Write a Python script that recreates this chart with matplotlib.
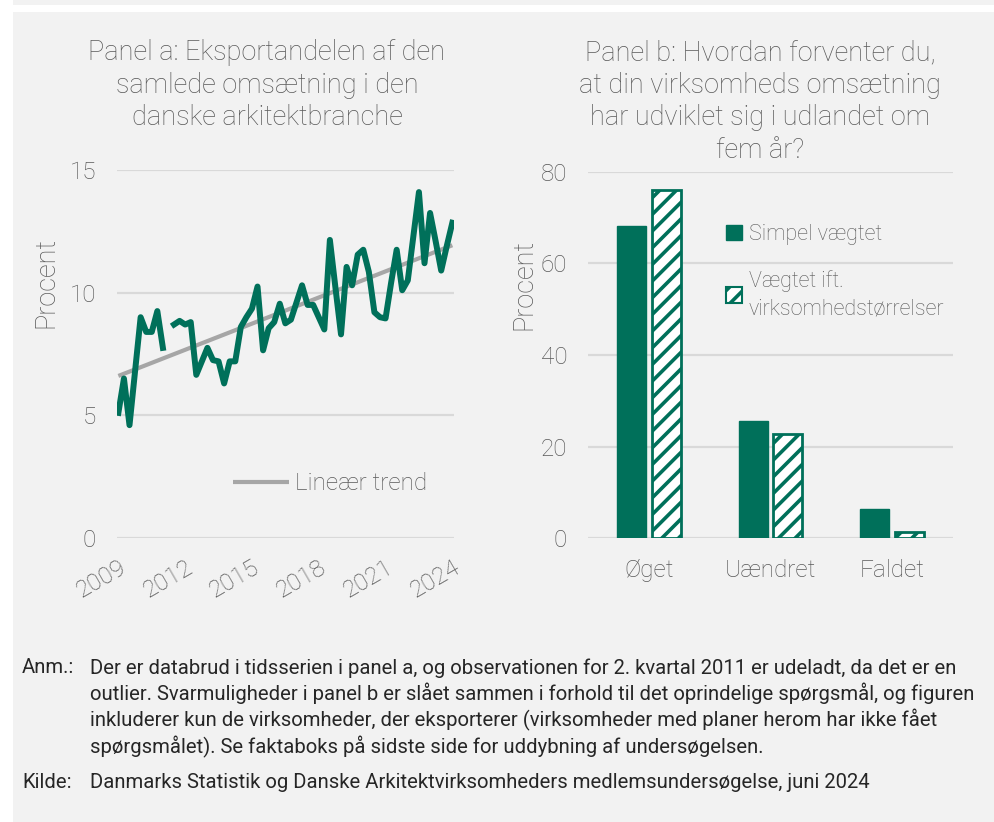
"""Eksportandel i arkitektbranchen (panel a) og forventet omsætning i udlandet (panel b)."""

import numpy as np
import matplotlib.pyplot as plt
from matplotlib.patches import Patch, Rectangle

# Panel a: kvartalsvis eksportandel, 2009K1-2024K1 (2011K2 udeladt)
export_share = [
    5.1, 6.5, 4.6, 6.8, 9.0, 8.4, 8.4, 9.25, 7.75, np.nan,
    8.7, 8.85, 8.7, 8.8, 6.65, 7.2, 7.75, 7.25, 7.2, 6.3,
    7.2, 7.2, 8.6, 9.0, 9.35, 10.25, 7.65, 8.55, 8.8, 9.55,
    8.75, 8.9, 9.6, 10.3, 9.5, 9.5, 9.0, 8.5, 12.15, 10.2,
    8.3, 11.05, 10.3, 11.55, 11.75, 10.85, 9.2, 9.0, 8.95, 10.4,
    11.75, 10.1, 10.5, 12.3, 14.1, 11.2, 13.25, 12.1, 10.9, 11.9,
    12.85,
]
year_ticks = [2009, 2012, 2015, 2018, 2021, 2024]

# Panel b: forventet udvikling i omsætning i udlandet om fem år (pct.)
categories = ["Øget", "Uændret", "Faldet"]
simple_weighted = [68.2, 25.6, 6.4]
size_weighted = [76.0, 22.8, 1.3]

GREEN = "#00705A"
GREY_TEXT = "#595959"
GRID = "#D9D9D9"
BG = "#F2F2F2"

plt.rcParams["font.family"] = ["Roboto", "DejaVu Sans"]
plt.rcParams["hatch.linewidth"] = 2.6

fig = plt.figure(figsize=(9.95, 8.22), dpi=100, facecolor="white")
W, H = 995, 822


def fx(px):
    return px / W


def fy(py):
    return 1 - py / H


# grey background boxes
fig.patches.append(Rectangle((fx(13), fy(5)), 1, fy(0) - fy(5), transform=fig.transFigure,
                             facecolor=BG, edgecolor="none", zorder=-10))
fig.patches.append(Rectangle((fx(13), 0), 1, fy(12), transform=fig.transFigure,
                             facecolor=BG, edgecolor="none", zorder=-10))


def style_axes(ax):
    ax.set_facecolor("none")
    for side in ax.spines.values():
        side.set_visible(False)
    ax.grid(axis="y", color=GRID, linewidth=1.6)
    ax.set_axisbelow(True)
    ax.tick_params(length=0, colors=GREY_TEXT, labelsize=17.5)
    for lbl in ax.get_xticklabels() + ax.get_yticklabels():
        lbl.set_fontweight("light")


label_kw = dict(fontsize=19.5, color=GREY_TEXT, fontweight="light", rotation=90,
                ha="center", va="center")
title_kw = dict(ha="center", va="top", fontsize=19.5, color=GREY_TEXT,
                fontweight="light", linespacing=1.27)

# ---- Panel a ----
ax_a = fig.add_axes([fx(116.7), fy(538), fx(454) - fx(116.7), fy(170) - fy(538)])
quarters = np.arange(len(export_share))
values = np.array(export_share, dtype=float)
ok = ~np.isnan(values)
slope, intercept = np.polyfit(quarters[ok], values[ok], 1)
ax_a.plot(quarters, slope * quarters + intercept, color="#A6A6A6", linewidth=3.0,
          solid_capstyle="butt", label="Lineær trend", zorder=2)
ax_a.plot(quarters, values, color=GREEN, linewidth=4.3, solid_joinstyle="round",
          zorder=3)
ax_a.set_xlim(-0.3, len(export_share) - 0.7)
ax_a.set_ylim(0, 15)
ax_a.set_yticks([0, 5, 10, 15])
ax_a.set_xticks([(y - 2009) * 4 for y in year_ticks])
ax_a.set_xticklabels([str(y) for y in year_ticks], rotation=30, ha="right",
                     rotation_mode="anchor")
style_axes(ax_a)
ax_a.tick_params(axis="y", pad=15)
ax_a.tick_params(axis="x", pad=13)
ax_a.legend(loc="center left", bbox_to_anchor=(0.28, 0.148), frameon=False,
            handlelength=2.3, handletextpad=0.25, prop={"size": 17.5, "weight": "light"},
            labelcolor=GREY_TEXT)
fig.text(fx(46), fy(282), "Procent", **label_kw)

fig.text(fx(267), fy(39), "Panel a: Eksportandelen af den\nsamlede omsætning i den\n"
         "danske arkitektbranche", **title_kw)

# ---- Panel b ----
ax_b = fig.add_axes([fx(588), fy(538.3), fx(953) - fx(588), fy(171.7) - fy(538.3)])
pos = np.arange(len(categories))
ax_b.bar(pos - 0.143, simple_weighted, width=0.24, color=GREEN, edgecolor=GREEN,
         linewidth=1, label="Simpel vægtet", zorder=3)
ax_b.bar(pos + 0.143, size_weighted, width=0.24, color="white", edgecolor=GREEN,
         linewidth=2, hatch="//", label="Vægtet ift.\nvirksomhedstørrelser", zorder=3)
ax_b.set_xlim(-0.5, len(categories) - 0.5)
ax_b.set_ylim(0, 80)
ax_b.set_yticks([0, 20, 40, 60, 80])
ax_b.set_xticks(pos)
ax_b.set_xticklabels(categories)
style_axes(ax_b)
ax_b.tick_params(axis="y", pad=15)
ax_b.tick_params(axis="x", pad=15)
handles = [Patch(facecolor=GREEN, edgecolor=GREEN),
           Patch(facecolor="white", edgecolor=GREEN, hatch="//", linewidth=1.5)]
leg = ax_b.legend(handles, ["Simpel vægtet", "Vægtet ift.\nvirksomhedstørrelser"],
                  loc="upper left", bbox_to_anchor=(0.325, 0.91), frameon=False,
                  handlelength=0.75, handleheight=0.75, handletextpad=0.3,
                  labelspacing=1.15, prop={"size": 15.5, "weight": "light"},
                  labelcolor=GREY_TEXT)
for t in leg.get_texts():
    t.set_linespacing(1.4)
fig.text(fx(524), fy(284), "Procent", **label_kw)

fig.text(fx(760), fy(39), "Panel b: Hvordan forventer du,\nat din virksomheds omsætning\n"
         "har udviklet sig i udlandet om\nfem år?", **title_kw)

# ---- Noter ----
note_kw = dict(fontsize=14.6, color="#262626", va="top", linespacing=1.28)
fig.text(fx(22), fy(658), "Anm.:", **note_kw)
fig.text(fx(90), fy(658),
         "Der er databrud i tidsserien i panel a, og observationen for 2. kvartal 2011 er udeladt, da det er en\n"
         "outlier. Svarmuligheder i panel b er slået sammen i forhold til det oprindelige spørgsmål, og figuren\n"
         "inkluderer kun de virksomheder, der eksporterer (virksomheder med planer herom har ikke fået\n"
         "spørgsmålet). Se faktaboks på sidste side for uddybning af undersøgelsen.",
         **note_kw)
fig.text(fx(22), fy(773), "Kilde:", **note_kw)
fig.text(fx(90), fy(773),
         "Danmarks Statistik og Danske Arkitektvirksomheders medlemsundersøgelse, juni 2024",
         **note_kw)

fig.savefig("out.png", dpi=100, facecolor="white")
